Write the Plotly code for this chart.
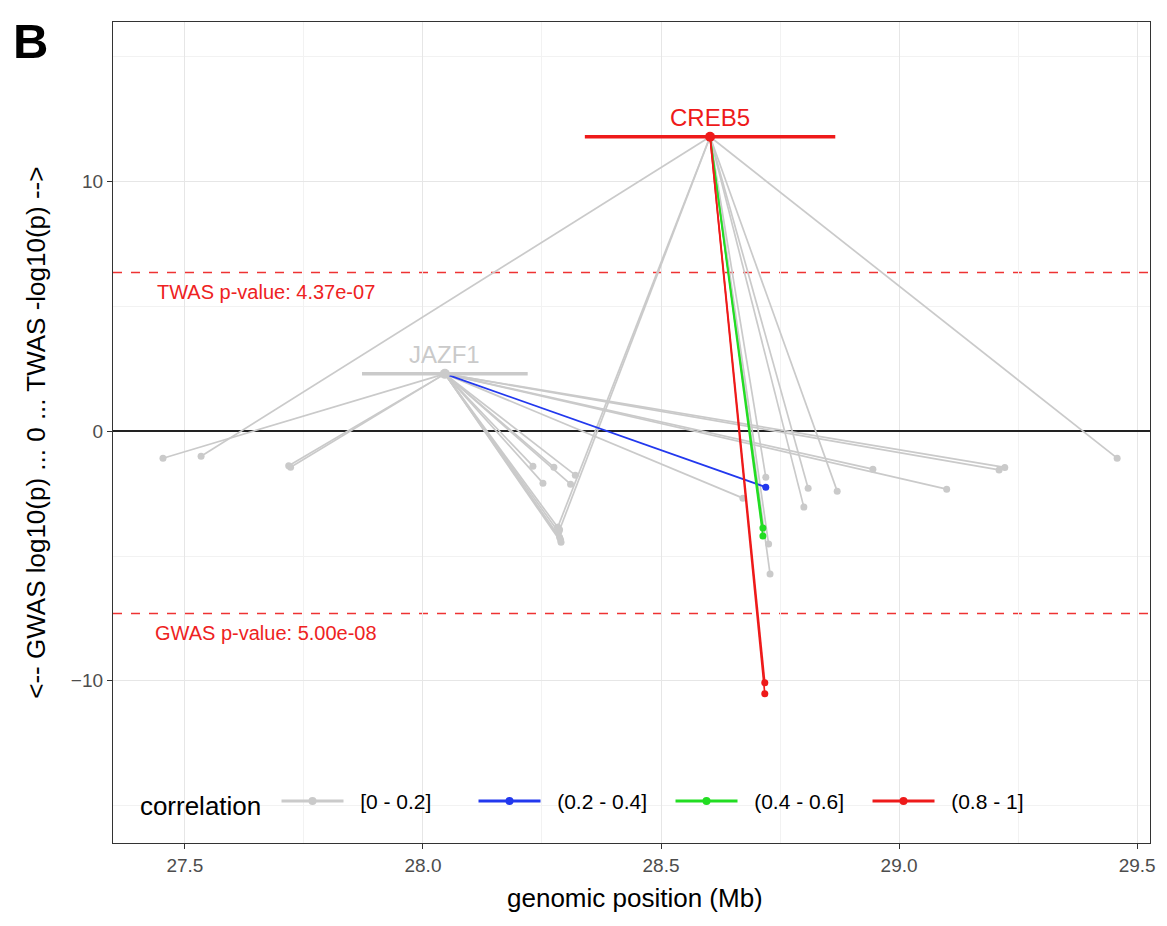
import plotly.graph_objects as go

# ---------------- data ----------------
genes = ["CREB5", "JAZF1"]
gene_pos = [28.603, 28.046]
gene_z = [11.8, 2.3]
gene_start = [28.34, 27.872]
gene_end = [28.866, 28.22]
gene_cat = ["(0.8 - 1]", "[0 - 0.2]"]

categories = ["[0 - 0.2]", "(0.2 - 0.4]", "(0.4 - 0.6]", "(0.8 - 1]"]
cat_colors = ["#cacaca", "#2238ee", "#22dd22", "#ee1a1a"]

# SNPs: connected gene index, position (Mb), GWAS log10(p), correlation category
snp_gene = [1, 1, 1, 1, 1, 1, 1, 1, 1, 1, 1, 1, 1, 1, 1, 1, 1, 1, 1,
            0, 0, 0, 0, 0, 0, 0, 0, 0, 0, 0, 0, 0, 0]
snp_pos = [27.454, 27.718, 27.722, 28.231, 28.275, 28.252, 28.31, 28.32,
           28.283, 28.285, 28.287, 28.29, 28.945, 29.21, 29.222, 29.10,
           28.672, 28.72, 28.289,
           27.534, 28.283, 28.287, 28.72, 28.714, 28.714, 28.726, 28.729,
           28.809, 28.80, 28.87, 29.458, 28.718, 28.718]
snp_logp = [-1.08, -1.38, -1.44, -1.40, -1.44, -2.08, -2.12, -1.76,
            -3.85, -4.05, -4.25, -4.45, -1.52, -1.55, -1.45, -2.32,
            -2.68, -2.24, -4.35,
            -1.00, -3.85, -3.95, -1.84, -3.88, -4.20, -4.52, -5.72,
            -2.28, -3.04, -2.40, -1.08, -10.08, -10.52]
snp_cat = ["[0 - 0.2]"] * 17 + ["(0.2 - 0.4]", "[0 - 0.2]"] + \
          ["[0 - 0.2]", "[0 - 0.2]", "[0 - 0.2]", "[0 - 0.2]",
           "(0.4 - 0.6]", "(0.4 - 0.6]", "[0 - 0.2]", "[0 - 0.2]",
           "[0 - 0.2]", "[0 - 0.2]", "[0 - 0.2]", "[0 - 0.2]",
           "(0.8 - 1]", "(0.8 - 1]"]

twas_thresh_p = 4.37e-07
gwas_thresh_p = 5.00e-08
twas_line = 6.36
gwas_line = -7.30

FONT = "Liberation Sans, Arial, Helvetica, sans-serif"

fig = go.Figure()

# connecting lines + SNP points, per category
for cat, col in zip(categories, cat_colors):
    xs, ys, px, py = [], [], [], []
    for g, p, z, c in zip(snp_gene, snp_pos, snp_logp, snp_cat):
        if c != cat:
            continue
        xs += [gene_pos[g], p, None]
        ys += [gene_z[g], z, None]
        px.append(p)
        py.append(z)
    fig.add_trace(go.Scatter(x=xs, y=ys, mode="lines",
                             line=dict(color=col, width=1.7),
                             showlegend=False, hoverinfo="skip"))
    fig.add_trace(go.Scatter(x=px, y=py, mode="markers",
                             marker=dict(color=col, size=7),
                             showlegend=False))

# genes: bar, point and label
for name, pos, z, s, e, cat in zip(genes, gene_pos, gene_z, gene_start, gene_end, gene_cat):
    col = cat_colors[categories.index(cat)]
    fig.add_trace(go.Scatter(x=[s, e], y=[z, z], mode="lines",
                             line=dict(color=col, width=3.5),
                             showlegend=False, hoverinfo="skip"))
    fig.add_trace(go.Scatter(x=[pos], y=[z], mode="markers",
                             marker=dict(color=col, size=10),
                             showlegend=False))
    fig.add_annotation(x=pos, y=z, text=name, showarrow=False, yshift=19,
                       font=dict(family=FONT, size=24, color=col))

# legend entries
for cat, col in zip(categories, cat_colors):
    fig.add_trace(go.Scatter(x=[None], y=[None], mode="lines+markers",
                             name="\u00a0\u00a0" + cat,
                             line=dict(color=col, width=3),
                             marker=dict(color=col, size=8)))

# threshold lines
for yv in [twas_line, gwas_line]:
    fig.add_shape(type="line", xref="paper", x0=0, x1=1, y0=yv, y1=yv,
                  line=dict(color="#ee3333", width=1.5, dash="dash"), layer="below")

fig.add_annotation(x=27.437, y=5.6, xanchor="left", yanchor="middle", showarrow=False,
                   text="TWAS p-value: %.2e" % twas_thresh_p,
                   font=dict(family=FONT, size=20, color="#ee2222"))
fig.add_annotation(x=27.432, y=-8.1, xanchor="left", yanchor="middle", showarrow=False,
                   text="GWAS p-value: %.2e" % gwas_thresh_p,
                   font=dict(family=FONT, size=20, color="#ee2222"))

# panel letter and axis titles
fig.add_annotation(xref="paper", yref="paper", x=-0.080, y=0.977,
                   xanchor="center", yanchor="middle", showarrow=False,
                   text="<b>B</b>", font=dict(family=FONT, size=49, color="black"))
fig.add_annotation(xref="paper", yref="paper", x=-0.075, y=0.5,
                   xanchor="center", yanchor="middle", showarrow=False,
                   textangle=-90,
                   text="<-- GWAS log10(p) ... 0 ... TWAS -log10(p) -->",
                   font=dict(family=FONT, size=26, color="black"))
fig.add_annotation(xref="paper", yref="paper", x=0.503, y=-0.067,
                   xanchor="center", yanchor="middle", showarrow=False,
                   text="genomic position (Mb)",
                   font=dict(family=FONT, size=26, color="black"))

fig.update_layout(
    width=1159, height=918,
    margin=dict(l=105, r=17, t=14, b=83),
    paper_bgcolor="white", plot_bgcolor="white",
    font=dict(family=FONT),
    legend=dict(orientation="h", x=0.024, y=0.049, xanchor="left", yanchor="middle",
                bgcolor="rgba(0,0,0,0)", font=dict(size=21, color="black"),
                title=dict(text="correlation ", side="left",
                           font=dict(size=26, color="black")),
                itemwidth=62, entrywidth=120),
)
fig.update_xaxes(range=[27.349, 29.527], tickvals=[27.5, 28.0, 28.5, 29.0, 29.5],
                 ticktext=["27.5", "28.0", "28.5", "29.0", "29.5"],
                 showgrid=True, gridcolor="#e6e6e6", gridwidth=1.3,
                 minor=dict(dtick=0.25, tick0=27.25, showgrid=True, gridcolor="#f2f2f2", gridwidth=0.8),
                 ticks="outside", ticklen=5, tickwidth=1.3, tickcolor="#333333",
                 tickfont=dict(size=19, color="#4d4d4d"),
                 showline=True, linecolor="#333333", linewidth=1.3, mirror=True,
                 zeroline=False)
fig.update_yaxes(range=[-16.5, 16.4], tickvals=[-10, 0, 10],
                 showgrid=True, gridcolor="#e6e6e6", gridwidth=1.3,
                 minor=dict(dtick=5, tick0=0, showgrid=True, gridcolor="#f2f2f2", gridwidth=0.8),
                 ticks="outside", ticklen=5, tickwidth=1.3, tickcolor="#333333",
                 tickfont=dict(size=19, color="#4d4d4d"),
                 showline=True, linecolor="#333333", linewidth=1.3, mirror=True,
                 zeroline=True, zerolinecolor="#222222", zerolinewidth=1.6)

fig.write_html("out.html")
